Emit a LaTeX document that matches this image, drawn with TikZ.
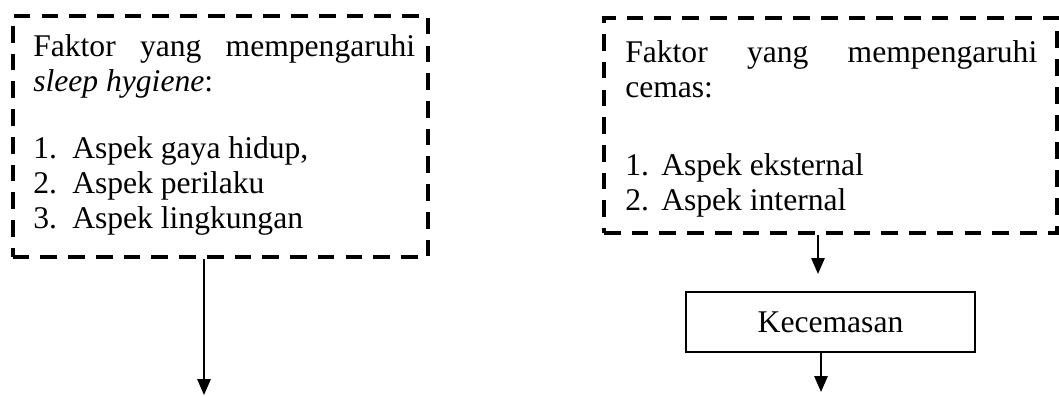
\documentclass[tikz,border=0pt]{standalone}
\usepackage{fontspec}
\setmainfont{Liberation Serif}
\usetikzlibrary{arrows.meta,fit}
\begin{document}
\begin{tikzpicture}[x=0.75pt,y=-0.75pt,
  dbox/.style={draw, line width=3pt, dash pattern=on 12.5pt off 8.3pt, inner sep=0pt},
  txt/.style={inner sep=0pt, anchor=base west, align=left, font=\fontsize{23.7}{26.25}\selectfont},
  sbox/.style={draw, line width=1.8pt, inner sep=0pt, font=\fontsize{23.7}{26.25}\selectfont},
  arr/.style={line width=1.5pt, -{Triangle[length=12pt,width=10pt]}}]
\useasboundingbox (0,0) rectangle (1059,396);

% left dashed box
\node[dbox, fit={(12.7,16) (428,257)}] (box1) {};
\node[txt] (t1) at (33,228) {\makebox[286.5pt][s]{Faktor yang mempengaruhi}\\
  \textit{sleep hygiene}:\\[24pt]
  \makebox[29.25pt][l]{1.}Aspek gaya hidup,\\
  \makebox[29.25pt][l]{2.}Aspek perilaku\\
  \makebox[29.25pt][l]{3.}Aspek lingkungan};

% right dashed box
\node[dbox, fit={(604,18) (1057,233)}] (box2) {};
\node[txt] (t2) at (625,210) {\makebox[309pt][s]{Faktor yang mempengaruhi}\\
  cemas:\\[32.25pt]
  \makebox[27pt][l]{1.}Aspek eksternal\\
  \makebox[27pt][l]{2.}Aspek internal};

% Kecemasan box
\node[sbox, minimum width=216.75pt, minimum height=45pt] (kec) at (830.5,322) {Kecemasan};

% connectors
\coordinate (e1) at (204,395);
\coordinate (e2) at (818,274);
\coordinate (e3) at (821,392);
\draw[arr] (e1 |- box1.south) -- (e1);
\draw[arr] (e2 |- box2.south) -- (e2);
\draw[arr] (e3 |- kec.south) -- (e3);
\end{tikzpicture}
\end{document}
